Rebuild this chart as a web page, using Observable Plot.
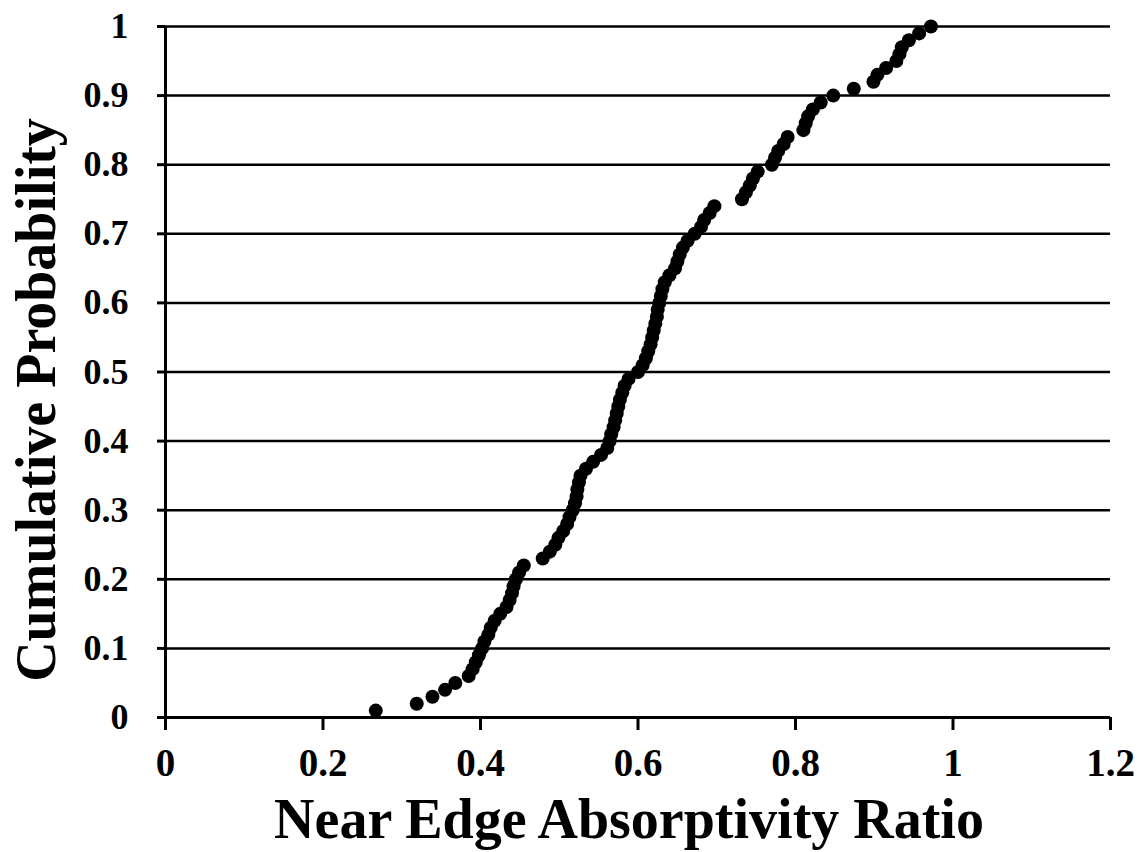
<!DOCTYPE html>
<html>
<head>
<meta charset="utf-8">
<script src="https://cdn.jsdelivr.net/npm/d3@7"></script>
<script src="https://cdn.jsdelivr.net/npm/@observablehq/plot@0.6"></script>
<style>
  html, body { margin: 0; padding: 0; background: #fff; }
</style>
</head>
<body>
<div id="chart"></div>
<script>
// Sorted near edge absorptivity ratios and their cumulative probabilities
const probability = [
  0.01, 0.02, 0.03, 0.04, 0.05, 0.06, 0.07, 0.08, 0.09, 0.10,
  0.11, 0.12, 0.13, 0.14, 0.15, 0.16, 0.17, 0.18, 0.19, 0.20,
  0.21, 0.22, 0.23, 0.24, 0.25, 0.26, 0.27, 0.28, 0.29, 0.30,
  0.31, 0.32, 0.33, 0.34, 0.35, 0.36, 0.37, 0.38, 0.39, 0.40,
  0.41, 0.42, 0.43, 0.44, 0.45, 0.46, 0.47, 0.48, 0.49, 0.50,
  0.51, 0.52, 0.53, 0.54, 0.55, 0.56, 0.57, 0.58, 0.59, 0.60,
  0.61, 0.62, 0.63, 0.64, 0.65, 0.66, 0.67, 0.68, 0.69, 0.70,
  0.71, 0.72, 0.73, 0.74, 0.75, 0.76, 0.77, 0.78, 0.79, 0.80,
  0.81, 0.82, 0.83, 0.84, 0.85, 0.86, 0.87, 0.88, 0.89, 0.90,
  0.91, 0.92, 0.93, 0.94, 0.95, 0.96, 0.97, 0.98, 0.99, 1.00
];
const ratio = [
  0.267, 0.319, 0.339, 0.355, 0.368, 0.385, 0.390, 0.394, 0.398, 0.402,
  0.405, 0.410, 0.413, 0.418, 0.425, 0.433, 0.437, 0.440, 0.442, 0.445,
  0.449, 0.455, 0.479, 0.488, 0.495, 0.499, 0.505, 0.510, 0.513, 0.517,
  0.520, 0.522, 0.523, 0.525, 0.527, 0.534, 0.543, 0.553, 0.561, 0.564,
  0.566, 0.569, 0.571, 0.573, 0.575, 0.577, 0.580, 0.583, 0.588, 0.600,
  0.606, 0.610, 0.613, 0.616, 0.618, 0.620, 0.622, 0.624, 0.625, 0.627,
  0.629, 0.631, 0.634, 0.640, 0.647, 0.650, 0.653, 0.657, 0.663, 0.672,
  0.680, 0.684, 0.691, 0.697, 0.732, 0.737, 0.742, 0.746, 0.752, 0.770,
  0.774, 0.778, 0.785, 0.790, 0.810, 0.813, 0.816, 0.822, 0.832, 0.848,
  0.874, 0.899, 0.904, 0.915, 0.928, 0.932, 0.935, 0.944, 0.957, 0.972
];

const xTicks = [0, 0.2, 0.4, 0.6, 0.8, 1, 1.2];
const yTicks = [0, 0.1, 0.2, 0.3, 0.4, 0.5, 0.6, 0.7, 0.8, 0.9, 1];

const xTitle = "Near Edge Absorptivity Ratio";
const yTitle = "Cumulative Probability";

const points = ratio.map((r, i) => ({ratio: r, probability: probability[i]}));

const chart = Plot.plot({
  width: 1137,
  height: 852,
  marginLeft: 165,
  marginRight: 27,
  marginTop: 26,
  marginBottom: 135,
  x: {domain: [0, 1.2]},
  y: {domain: [0, 1]},
  style: {
    fontFamily: "'Liberation Serif', 'Times New Roman', serif",
    fontWeight: "bold",
    color: "black",
    background: "white"
  },
  marks: [
    Plot.gridY(yTicks, {stroke: "black", strokeOpacity: 1, strokeWidth: 2.5}),
    Plot.axisY(yTicks, {
      tickSize: 8, tickPadding: 29, fontSize: 36, strokeWidth: 3,
      label: null, tickFormat: d => String(d)
    }),
    Plot.axisX(xTicks, {
      tickSize: 13, tickPadding: 18, fontSize: 39, strokeWidth: 3,
      label: null, tickFormat: d => String(d)
    }),
    Plot.ruleY([0], {stroke: "black", strokeWidth: 3}),
    Plot.ruleX([0], {stroke: "black", strokeWidth: 3}),
    Plot.dot(points, {x: "ratio", y: "probability", r: 7, fill: "black", stroke: null}),
    Plot.text([xTitle], {
      frameAnchor: "bottom", textAnchor: "middle", dx: -9, dy: 120,
      fontSize: 56, fontWeight: "bold", fill: "black"
    }),
    Plot.text([yTitle], {
      frameAnchor: "left", textAnchor: "middle", rotate: -90, dx: -128, dy: 28,
      fontSize: 56, fontWeight: "bold", fill: "black"
    })
  ]
});

document.getElementById("chart").appendChild(chart);
</script>
</body>
</html>
